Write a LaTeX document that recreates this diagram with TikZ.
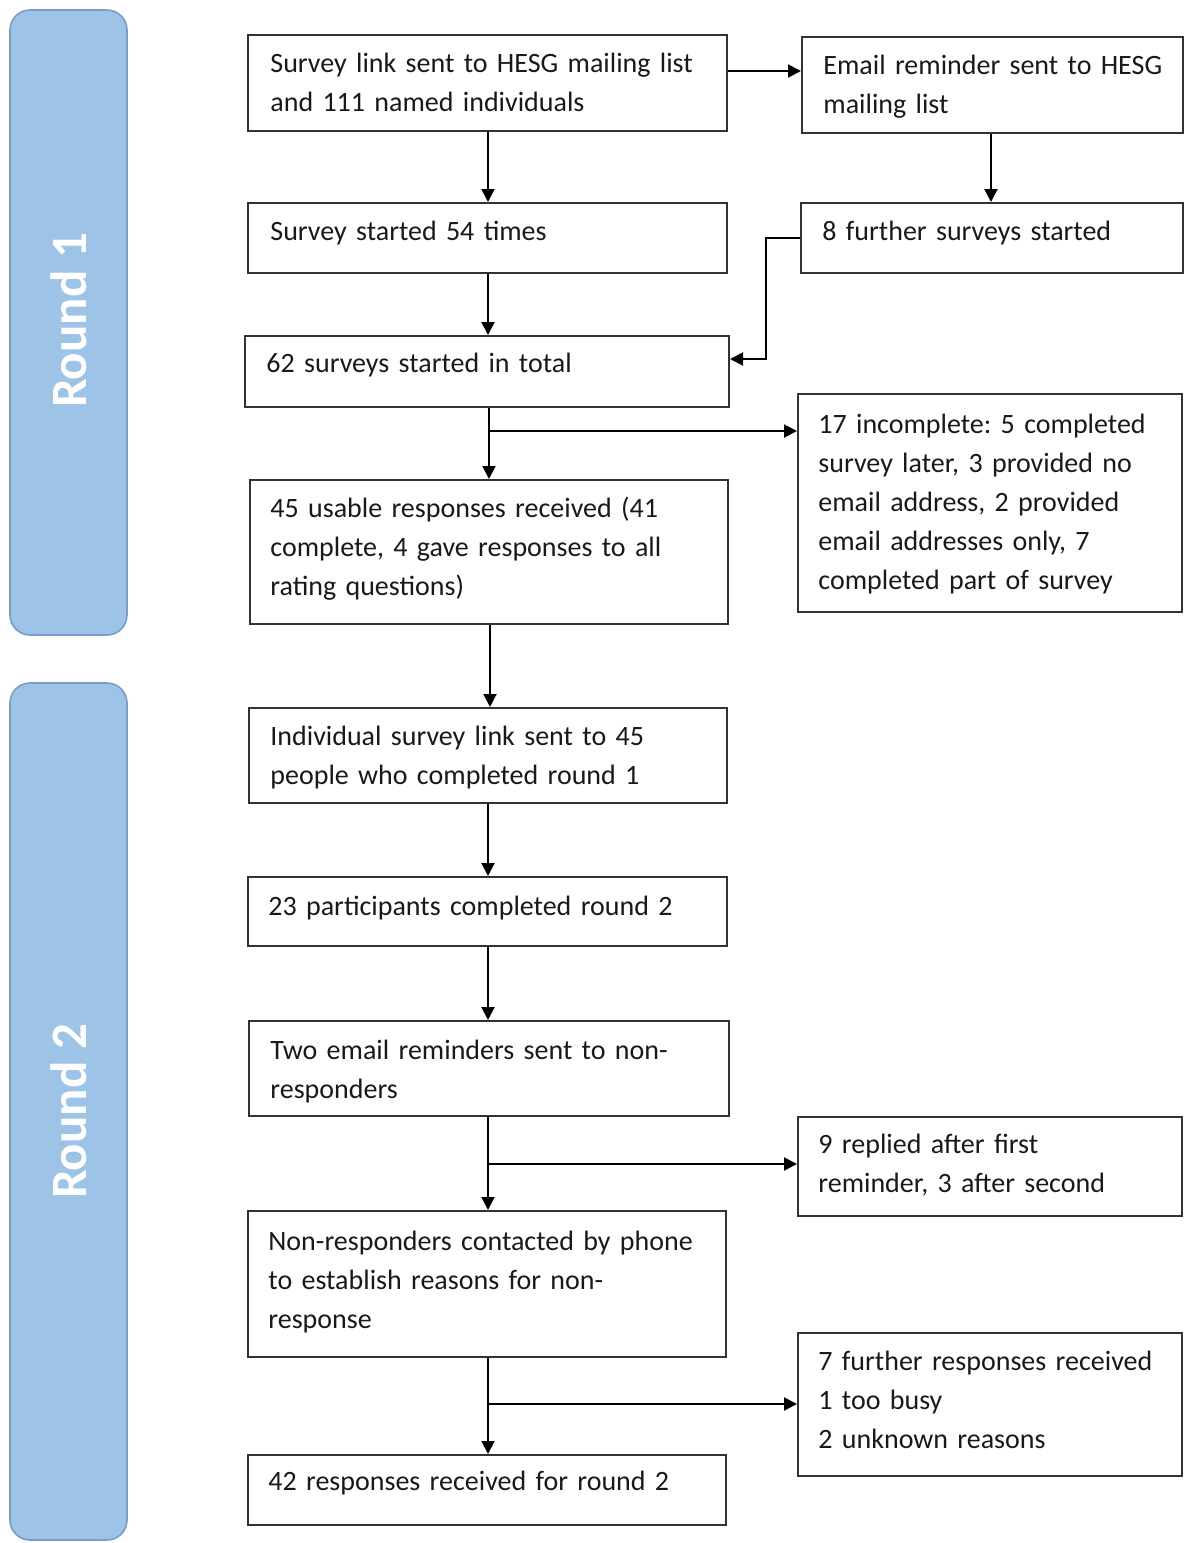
\documentclass[tikz,border=0pt]{standalone}
\usepackage{fontspec}
\setmainfont{Carlito}
\frenchspacing
\usetikzlibrary{arrows.meta,fit}
\definecolor{barfill}{HTML}{9DC3E6}
\definecolor{barline}{HTML}{7A9CC8}
\definecolor{boxline}{HTML}{333333}
\begin{document}
\begin{tikzpicture}[x=0.5pt,y=-0.5pt,
  box/.style={draw=boxline,line width=1pt,inner sep=0pt},
  txt/.style={anchor=base west,inner sep=0pt,text width=250pt,align=left,
    font=\fontsize{14pt}{19.5pt}\selectfont,text=black!90},
  bar/.style={draw=barline,fill=barfill,line width=0.8pt,rounded corners=10pt,inner sep=0pt},
  barlabel/.style={text=white,font=\fontsize{25.5pt}{30pt}\selectfont\bfseries,rotate=90},
  arr/.style={-{Triangle[length=6.5pt,width=6.5pt]},line width=1pt,draw=black}]
\useasboundingbox (0,0) rectangle (1184,1543);
\fill[white] (0,0) rectangle (1184,1543);
% round bars
\node[bar,fit={(10,10) (127,635)}] (r1) {};
\node[barlabel] at ([yshift=1pt]r1.center) {Round 1};
\node[bar,fit={(10,683) (127,1540)}] (r2) {};
\node[barlabel] at (r2.center) {Round 2};
% boxes
\node[box,fit={(248,35) (727,131)}] (a) {};
\node[txt] at (270,72) {Survey link sent to HESG mailing list\\and 111 named individuals};
\node[box,fit={(802,37) (1183,133)}] (b) {};
\node[txt] at (823,74) {Email reminder sent to HESG\\mailing list};
\node[box,fit={(248,203) (727,273)}] (c) {};
\node[txt] at (270,240) {Survey started 54 times};
\node[box,fit={(801,203) (1183,273)}] (d) {};
\node[txt] at (822,240) {8 further surveys started};
\node[box,fit={(245,336) (729,407)}] (e) {};
\node[txt] at (266,372) {62 surveys started in total};
\node[box,fit={(798,394) (1182,612)}] (f) {};
\node[txt] at (818,433) {17 incomplete: 5 completed\\survey later, 3 provided no\\email address, 2 provided\\email addresses only, 7\\completed part of survey};
\node[box,fit={(250,480) (728,624)}] (g) {};
\node[txt] at (270,517) {45 usable responses received (41\\complete, 4 gave responses to all\\rating questions)};
\node[box,fit={(249,708) (727,803)}] (h) {};
\node[txt] at (270,745) {Individual survey link sent to 45\\people who completed round 1};
\node[box,fit={(248,877) (727,946)}] (i) {};
\node[txt] at (268,915) {23 participants completed round 2};
\node[box,fit={(249,1021) (729,1116)}] (j) {};
\node[txt] at (270,1059) {Two email reminders sent to non-\\responders};
\node[box,fit={(798,1117) (1182,1216)}] (k) {};
\node[txt] at (818,1153) {9 replied after first\\reminder, 3 after second};
\node[box,fit={(248,1211) (726,1357)}] (l) {};
\node[txt] at (268,1250) {Non-responders contacted by phone\\to establish reasons for non-\\response};
\node[box,fit={(798,1333) (1182,1476)}] (m) {};
\node[txt] at (818,1370) {7 further responses received\\1 too busy\\2 unknown reasons};
\node[box,fit={(248,1455) (726,1525)}] (n) {};
\node[txt] at (268,1490) {42 responses received for round 2};
% connectors
\draw[arr] (a.south -| 488,0) -- (c.north -| 488,0);
\draw[arr] (a.east |- 0,71) -- (b.west |- 0,71);
\draw[arr] (b.south -| 991,0) -- (d.north -| 991,0);
\draw[arr] (c.south -| 488,0) -- (e.north -| 488,0);
\draw[arr] (d.west |- 0,238) -- (766,238) -- (766,359) -- (e.east |- 0,359);
\draw[arr] (e.south -| 489,0) -- (g.north -| 489,0);
\coordinate (ef) at (489,431);
\draw[arr] (ef) -- (f.west |- ef);
\draw[arr] (g.south -| 490,0) -- (h.north -| 490,0);
\draw[arr] (h.south -| 488,0) -- (i.north -| 488,0);
\draw[arr] (i.south -| 488,0) -- (j.north -| 488,0);
\draw[arr] (j.south -| 488,0) -- (l.north -| 488,0);
\coordinate (jk) at (488,1164);
\draw[arr] (jk) -- (k.west |- jk);
\draw[arr] (l.south -| 488,0) -- (n.north -| 488,0);
\coordinate (lm) at (488,1404);
\draw[arr] (lm) -- (m.west |- lm);
\end{tikzpicture}
\end{document}
